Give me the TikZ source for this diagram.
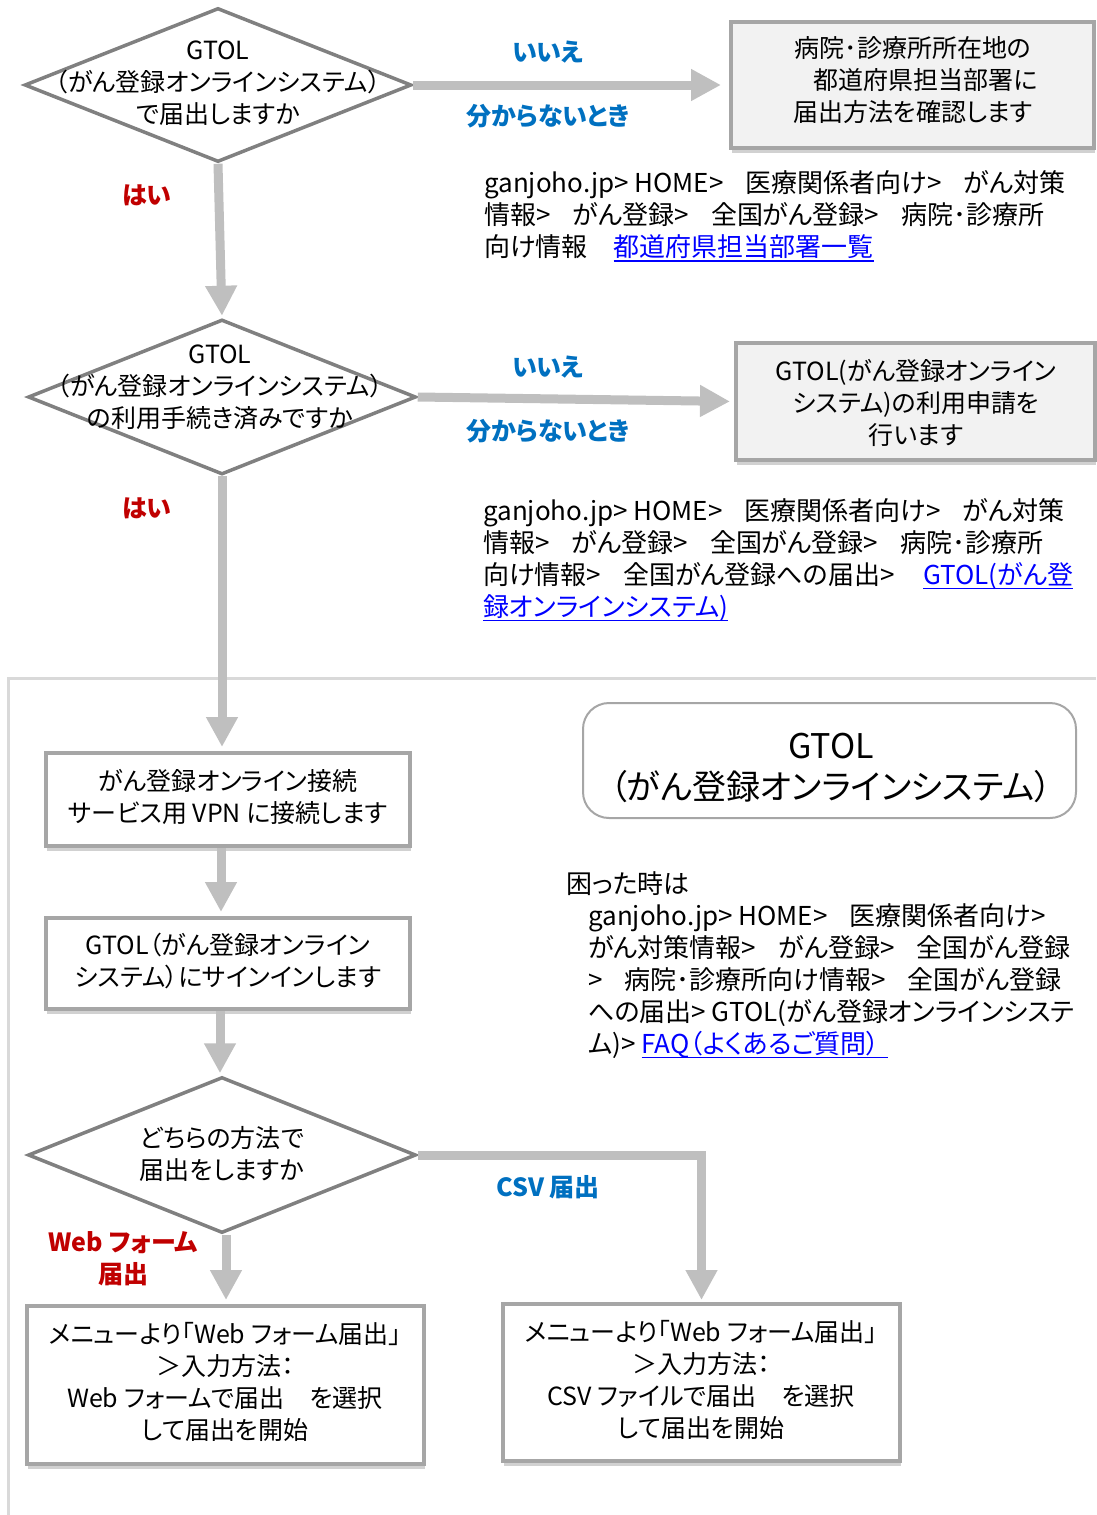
\documentclass[tikz,border=0pt]{standalone}
\usepackage{fontspec}
\setmainfont{Noto Sans CJK JP}[RawFeature=+palt]
\usetikzlibrary{arrows.meta,shadows,shapes.geometric,calc}
\definecolor{arrowgray}{HTML}{BFBFBF}
\definecolor{diagray}{HTML}{808080}
\definecolor{boxgray}{HTML}{A6A6A6}
\definecolor{boxfill}{HTML}{F2F2F2}
\definecolor{framegray}{HTML}{D9D9D9}
\definecolor{lblblue}{HTML}{0070C0}
\definecolor{lblred}{HTML}{C00000}
\definecolor{linkblue}{HTML}{0000FF}
\newcommand\lnk[1]{\textcolor{linkblue}{\setbox0\hbox{#1}\rlap{\rule[-5pt]{\wd0}{1.8pt}}\box0}}
\newcommand\gp{\hspace{0.85em}}
\begin{document}
\begin{tikzpicture}[x=1pt,y=-1pt,
  txt/.style={font=\fontsize{25}{32}\selectfont, align=center, inner sep=0pt},
  ltxt/.style={font=\fontsize{26}{32}\selectfont, align=left, inner sep=0pt, anchor=west},
  lbl/.style={font=\fontsize{25}{32}\selectfont\bfseries, align=center, inner sep=0pt},
  dia/.style={diamond, draw=diagray, line width=3.5pt, fill=white, inner sep=0pt},
  box/.style={rectangle, draw=boxgray, line width=4pt, inner sep=0pt,
    drop shadow={shadow xshift=1pt, shadow yshift=-5pt, opacity=0.18, fill=black}},
  arr/.style={draw=arrowgray, line width=9pt, -{Triangle[length=30pt,width=30pt]}, shorten >=2pt}
]
\useasboundingbox (0,0) rectangle (1096,1515);

% frame
\draw[framegray, line width=3pt] (8,1515) -- (8,678) -- (1096,678);

% diamonds
\node[dia, minimum width=387pt, minimum height=154pt] (d1) at (218,85) {};
\node[txt] (d1t) at (218,83) {GTOL\\（がん登録オンラインシステム）\\で届出しますか};

\node[dia, minimum width=388pt, minimum height=155pt] (d2) at (222,397) {};
\node[txt] (d2t) at (220,387) {GTOL\\（がん登録オンラインシステム）\\の利用手続き済みですか};

\node[dia, minimum width=388pt, minimum height=156pt] (d3) at (222,1155) {};
\node[txt] (d3t) at (222,1154) {どちらの方法で\\届出をしますか};

% boxes top
\node[box, fill=boxfill, minimum width=363pt, minimum height=126pt] (b1) at (912.5,85) {};
\node[txt] (b1t) at (913,80) {病院･診療所所在地の\\\hspace*{1em}都道府県担当部署に\\届出方法を確認します};

\node[box, fill=boxfill, minimum width=359pt, minimum height=117pt] (b2) at (915.5,401.5) {};
\node[txt] (b2t) at (916,402.5) {GTOL(がん登録オンライン\\システム)の利用申請を\\行います};

% lower boxes
\node[box, fill=white, minimum width=364pt, minimum height=93pt] (vpn) at (228,799.5) {};
\node[txt] (vpnt) at (228,797) {がん登録オンライン接続\\サービス用 VPN に接続します};

\node[box, fill=white, minimum width=364pt, minimum height=91pt] (sig) at (228,963.5) {};
\node[txt] (sigt) at (228,961) {GTOL（がん登録オンライン\\システム）にサインインします};

\node[box, fill=white, minimum width=397pt, minimum height=158pt] (web) at (225.5,1385) {};
\node[txt] (webt) at (225,1381.5) {メニューより「Web フォーム届出」\\＞入力方法：\\Web フォームで届出\hspace{1em}を選択\\して届出を開始};

\node[box, fill=white, minimum width=397pt, minimum height=157pt] (csv) at (701.5,1382.5) {};
\node[txt] (csvt) at (701,1379.5) {メニューより「Web フォーム届出」\\＞入力方法：\\CSV ファイルで届出\hspace{1em}を選択\\して届出を開始};

% GTOL rounded box
\node[draw=boxgray, line width=2pt, rounded corners=26pt, fill=white, minimum width=493pt, minimum height=115pt] (gtol) at (829.5,760.5) {};
\node[font=\fontsize{34}{41}\selectfont, align=center, inner sep=0pt] (gtolt) at (831,767.5) {GTOL\\（がん登録オンラインシステム）};

% arrows
\draw[arr, shorten >=8pt] (d1.east) -- (b1.west);
\draw[arr, shorten >=4pt] (d2.east) -- (b2.west);
\draw[arr] (d1.south) -- (d2.north);
\draw[arr, shorten >=4pt] (d2.south) -- (d2.south |- vpn.north);
\draw[arr, shorten >=4pt] (vpn.south -| 221,0) -- (sig.north -| 221,0);
\draw[arr] (sig.south -| 220,0) -- (d3.north -| 220,0);
\draw[arr, shorten >=4pt] (d3.south -| 226,0) -- (web.north -| 226,0);
\draw[arr] (d3.east) -| (csv.north);

% labels
\node[lbl, text=lblblue] (l1a) at (548,52) {いいえ};
\node[lbl, text=lblblue] (l1b) at (548,116) {分からないとき};
\node[lbl, text=lblblue] (l2a) at (548,367) {いいえ};
\node[lbl, text=lblblue] (l2b) at (548,431) {分からないとき};
\node[lbl, text=lblred] (y1) at (147,195) {はい};
\node[lbl, text=lblred] (y2) at (147,508) {はい};
\node[lbl, text=lblblue] (csvl) at (548,1187) {CSV 届出};
\node[lbl, text=lblred] (webl) at (123,1259) {Web フォーム\\届出};

% info texts
\node[ltxt] (i1) at (484,216) {ganjoho.jp> HOME>\gp 医療関係者向け>\gp がん対策\\情報>\gp がん登録>\gp 全国がん登録>\gp 病院･診療所\\向け情報\hspace{1em}\lnk{都道府県担当部署一覧}};

\node[ltxt] (i2) at (483,560) {ganjoho.jp> HOME>\gp 医療関係者向け>\gp がん対策\\情報>\gp がん登録>\gp 全国がん登録>\gp 病院･診療所\\向け情報>\gp 全国がん登録への届出>\hspace{1.1em}\lnk{GTOL(がん登}\\\lnk{録オンラインシステム)}};

\node[ltxt] (i3a) at (566,884) {困った時は};
\node[ltxt] (i3) at (588,981) {ganjoho.jp> HOME>\gp 医療関係者向け>\\がん対策情報>\gp がん登録>\gp 全国がん登録\\>\gp 病院･診療所向け情報>\gp 全国がん登録\\への届出> GTOL(がん登録オンラインシステ\\ム)> \lnk{FAQ（よくあるご質問）\hspace{8pt}}};
\end{tikzpicture}
\end{document}
